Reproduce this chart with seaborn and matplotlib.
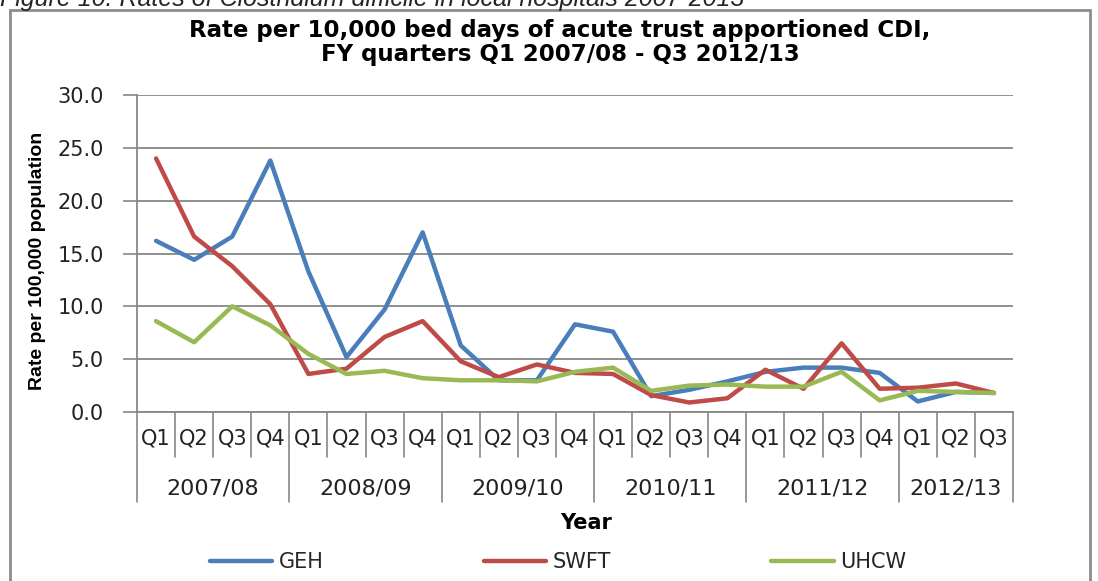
import numpy as np
import pandas as pd
import matplotlib.pyplot as plt
import seaborn as sns
from matplotlib.patches import Rectangle
from matplotlib.transforms import blended_transform_factory

# data
years = ["2007/08", "2008/09", "2009/10", "2010/11", "2011/12", "2012/13"]
quarters_per_year = [4, 4, 4, 4, 4, 3]
quarters = [f"Q{q + 1}" for n in quarters_per_year for q in range(n)]

geh = [16.2, 14.4, 16.6, 23.8, 13.3, 5.2, 9.7, 17.0, 6.3, 3.0, 3.0, 8.3,
       7.6, 1.5, 2.1, 2.9, 3.8, 4.2, 4.2, 3.7, 1.0, 1.9, 1.8]
swft = [24.0, 16.6, 13.8, 10.2, 3.6, 4.1, 7.1, 8.6, 4.8, 3.3, 4.5, 3.7,
        3.6, 1.6, 0.9, 1.3, 4.0, 2.2, 6.5, 2.2, 2.3, 2.7, 1.8]
uhcw = [8.6, 6.6, 10.0, 8.2, 5.5, 3.6, 3.9, 3.2, 3.0, 3.0, 2.9, 3.8,
        4.2, 2.0, 2.5, 2.6, 2.4, 2.4, 3.8, 1.1, 2.0, 1.9, 1.8]

trusts = ["GEH", "SWFT", "UHCW"]
colours = ["#4A7EBB", "#BE4B48", "#98B954"]

df = pd.DataFrame({"pos": np.arange(len(quarters)), "GEH": geh, "SWFT": swft, "UHCW": uhcw})
df = df.melt(id_vars="pos", var_name="Trust", value_name="Rate")

sns.set_style("white")
plt.rcParams["font.family"] = ["DejaVu Sans"]
grey = "#878787"

W, H = 1098, 581
fig = plt.figure(figsize=(W / 100, H / 100), dpi=100)
ax = fig.add_axes([137 / W, 1 - 412 / H, 876 / W, 317 / H])

sns.lineplot(data=df, x="pos", y="Rate", hue="Trust", hue_order=trusts,
             palette=colours, linewidth=3.2, ax=ax)
handles, labels = ax.get_legend_handles_labels()
ax.get_legend().remove()

ax.set_xlim(-0.5, len(quarters) - 0.5)
ax.set_ylim(0, 30)
ax.set_yticks(np.arange(0, 31, 5))
ax.set_yticklabels([f"{v:.1f}" for v in np.arange(0, 31, 5)], fontsize=15, color="#222222")
ax.tick_params(axis="y", length=10, width=1.2, color=grey, direction="out", left=True, pad=14)
ax.yaxis.grid(True, color=grey, lw=1.3)
ax.xaxis.grid(False)
for s in ["top", "right"]:
    ax.spines[s].set_visible(False)
for s in ["left", "bottom"]:
    ax.spines[s].set_color(grey)
    ax.spines[s].set_linewidth(1.3)

ax.set_xticks(np.arange(len(quarters)))
ax.set_xticklabels(quarters, fontsize=15, color="#222222")
ax.tick_params(axis="x", length=0, pad=12)
ax.set_xlabel("")
ax.set_ylabel("")

# category separators below the axis
trans = blended_transform_factory(ax.transData, ax.transAxes)
group_edges = np.concatenate([[0], np.cumsum(quarters_per_year)]) - 0.5
for b in np.arange(0.5, len(quarters) - 1):
    if b not in group_edges:
        ax.plot([b, b], [0, -45 / 317], transform=trans, clip_on=False, color=grey, lw=1.2)
for b in group_edges:
    ax.plot([b, b], [0, -90 / 317], transform=trans, clip_on=False, color=grey, lw=1.2)
for yr, lo, hi in zip(years, group_edges[:-1], group_edges[1:]):
    ax.text((lo + hi) / 2, -76 / 317, yr, transform=trans, ha="center", va="center",
            fontsize=16, color="#222222")

# texts
fig.text(0.0, 1 - 6 / H, "Figure 10: Rates of Clostridium difficile in local hospitals 2007-2013",
         style="italic", fontsize=18, va="baseline", ha="left", family="Liberation Sans")
fig.text(560 / W, 1 - 30 / H, "Rate per 10,000 bed days of acute trust apportioned CDI,",
         ha="center", va="center", fontsize=16.5, fontweight="bold", color="black")
fig.text(560 / W, 1 - 54 / H, "FY quarters Q1 2007/08 - Q3 2012/13",
         ha="center", va="center", fontsize=16.5, fontweight="bold", color="black")
fig.text(38 / W, 1 - 261 / H, "Rate per 100,000 population", rotation=90,
         ha="center", va="center", fontsize=14, fontweight="bold", family="Liberation Sans",
         color="black")
fig.text(586 / W, 1 - 523 / H, "Year", ha="center", va="center", fontsize=15, fontweight="bold",
         color="black")

for h in handles:
    h.set_linewidth(3.2)
fig.legend(handles, labels, loc="center", bbox_to_anchor=(558 / W, 1 - 562 / H), ncol=3,
           frameon=False, handlelength=3.0, handletextpad=0.3, columnspacing=7.7, fontsize=15)

# outer border of the chart
fig.patches.append(Rectangle((10 / W, -0.1), 1080 / W, 1.1 - 10 / H, transform=fig.transFigure,
                             fill=False, ec="#8c8c8c", lw=2))

fig.savefig("out.png", dpi=100)
